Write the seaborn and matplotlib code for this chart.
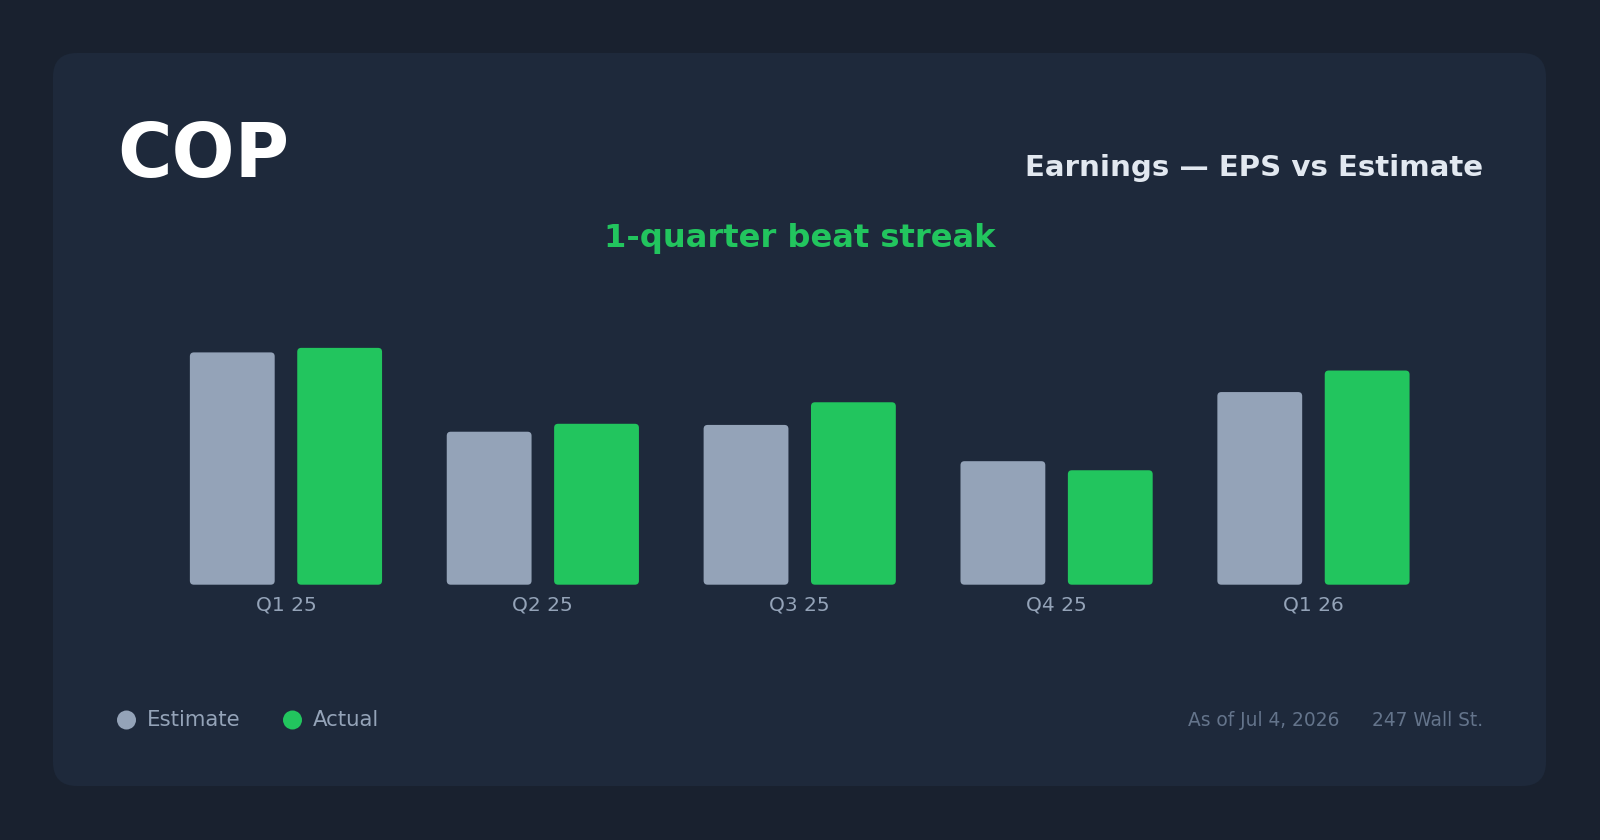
import pandas as pd
import numpy as np
import matplotlib.pyplot as plt
import seaborn as sns
from matplotlib.patches import FancyBboxPatch, Circle

# 数据
quarters = ["Q1 25", "Q2 25", "Q3 25", "Q4 25", "Q1 26"]
estimate = [2.05, 1.35, 1.41, 1.09, 1.70]
actual = [2.09, 1.42, 1.61, 1.01, 1.89]

BG_OUTER = "#19212f"
BG_CARD = "#1e293b"
C_EST = "#94a3b8"
C_ACT = "#22c55e"

df = pd.DataFrame({
    "quarter": quarters * 2,
    "eps": estimate + actual,
    "type": ["Estimate"] * len(quarters) + ["Actual"] * len(quarters),
})

sns.set_theme(style="white")
plt.rcParams['font.family'] = ['DejaVu Sans']

fig = plt.figure(figsize=(16, 8.4), dpi=100, facecolor=BG_OUTER)

# 背景层, 像素坐标
bg = fig.add_axes([0, 0, 1, 1], zorder=0)
bg.set_xlim(0, 1600)
bg.set_ylim(840, 0)
bg.axis("off")
bg.add_patch(FancyBboxPatch((53, 53), 1493, 733,
                            boxstyle="round,pad=0,rounding_size=24",
                            facecolor=BG_CARD, edgecolor="none"))

bg.text(117, 177, "COP", color="white", fontsize=53.5, fontweight="bold",
        ha="left", va="baseline")
bg.text(1483, 176, "Earnings — EPS vs Estimate", color="#e2e8f0", fontsize=21.1,
        fontweight="bold", ha="right", va="baseline")
bg.text(800, 239, "1-quarter beat streak", color=C_ACT, fontsize=23.1,
        fontweight="bold", ha="center", va="center")

# 图例
for x0, label, col in [(126.5, "Estimate", C_EST), (292.5, "Actual", C_ACT)]:
    bg.add_patch(Circle((x0, 720), 9.5, facecolor=col, edgecolor="none"))
    bg.text(x0 + 20, 720, label, color=C_EST, fontsize=15.3, ha="left", va="center")

bg.text(1339, 720, "As of Jul 4, 2026", color="#64748b", fontsize=13.4,
        ha="right", va="center")
bg.text(1483, 720, "247 Wall St.", color="#64748b", fontsize=13.4,
        ha="right", va="center")

# 主图
ax = fig.add_axes([119 / 1600, (840 - 584.7) / 840, 1364 / 1600, 284.2 / 840], zorder=1)
ax.patch.set_alpha(0)
sns.barplot(data=df, x="quarter", y="eps", hue="type",
            palette={"Estimate": C_EST, "Actual": C_ACT}, saturation=1,
            width=0.836, gap=0.21, legend=False, ax=ax)

ymax = max(max(estimate), max(actual)) * 1.2
ax.set_ylim(0, ymax)
ax.set_xlim(-0.65, 4.66)

# 圆角柱子
px_x = 1364 / (4.66 + 0.65)
px_y = 284.2 / ymax
aspect = px_x / px_y
rad = 4 / px_x
for p in list(ax.patches):
    x, y = p.get_x(), p.get_y()
    w, h = p.get_width(), p.get_height()
    col = p.get_facecolor()
    p.remove()
    ax.add_patch(FancyBboxPatch((x, y), w, h,
                                boxstyle=f"round,pad=0,rounding_size={rad}",
                                mutation_aspect=aspect,
                                facecolor=col, edgecolor="none"))

for s in ax.spines.values():
    s.set_visible(False)
ax.set_yticks([])
ax.set_xlabel("")
ax.set_ylabel("")
ax.tick_params(axis="x", length=0, pad=8, labelsize=14.5, labelcolor=C_EST)

fig.savefig("out.png", dpi=100, facecolor=BG_OUTER)
